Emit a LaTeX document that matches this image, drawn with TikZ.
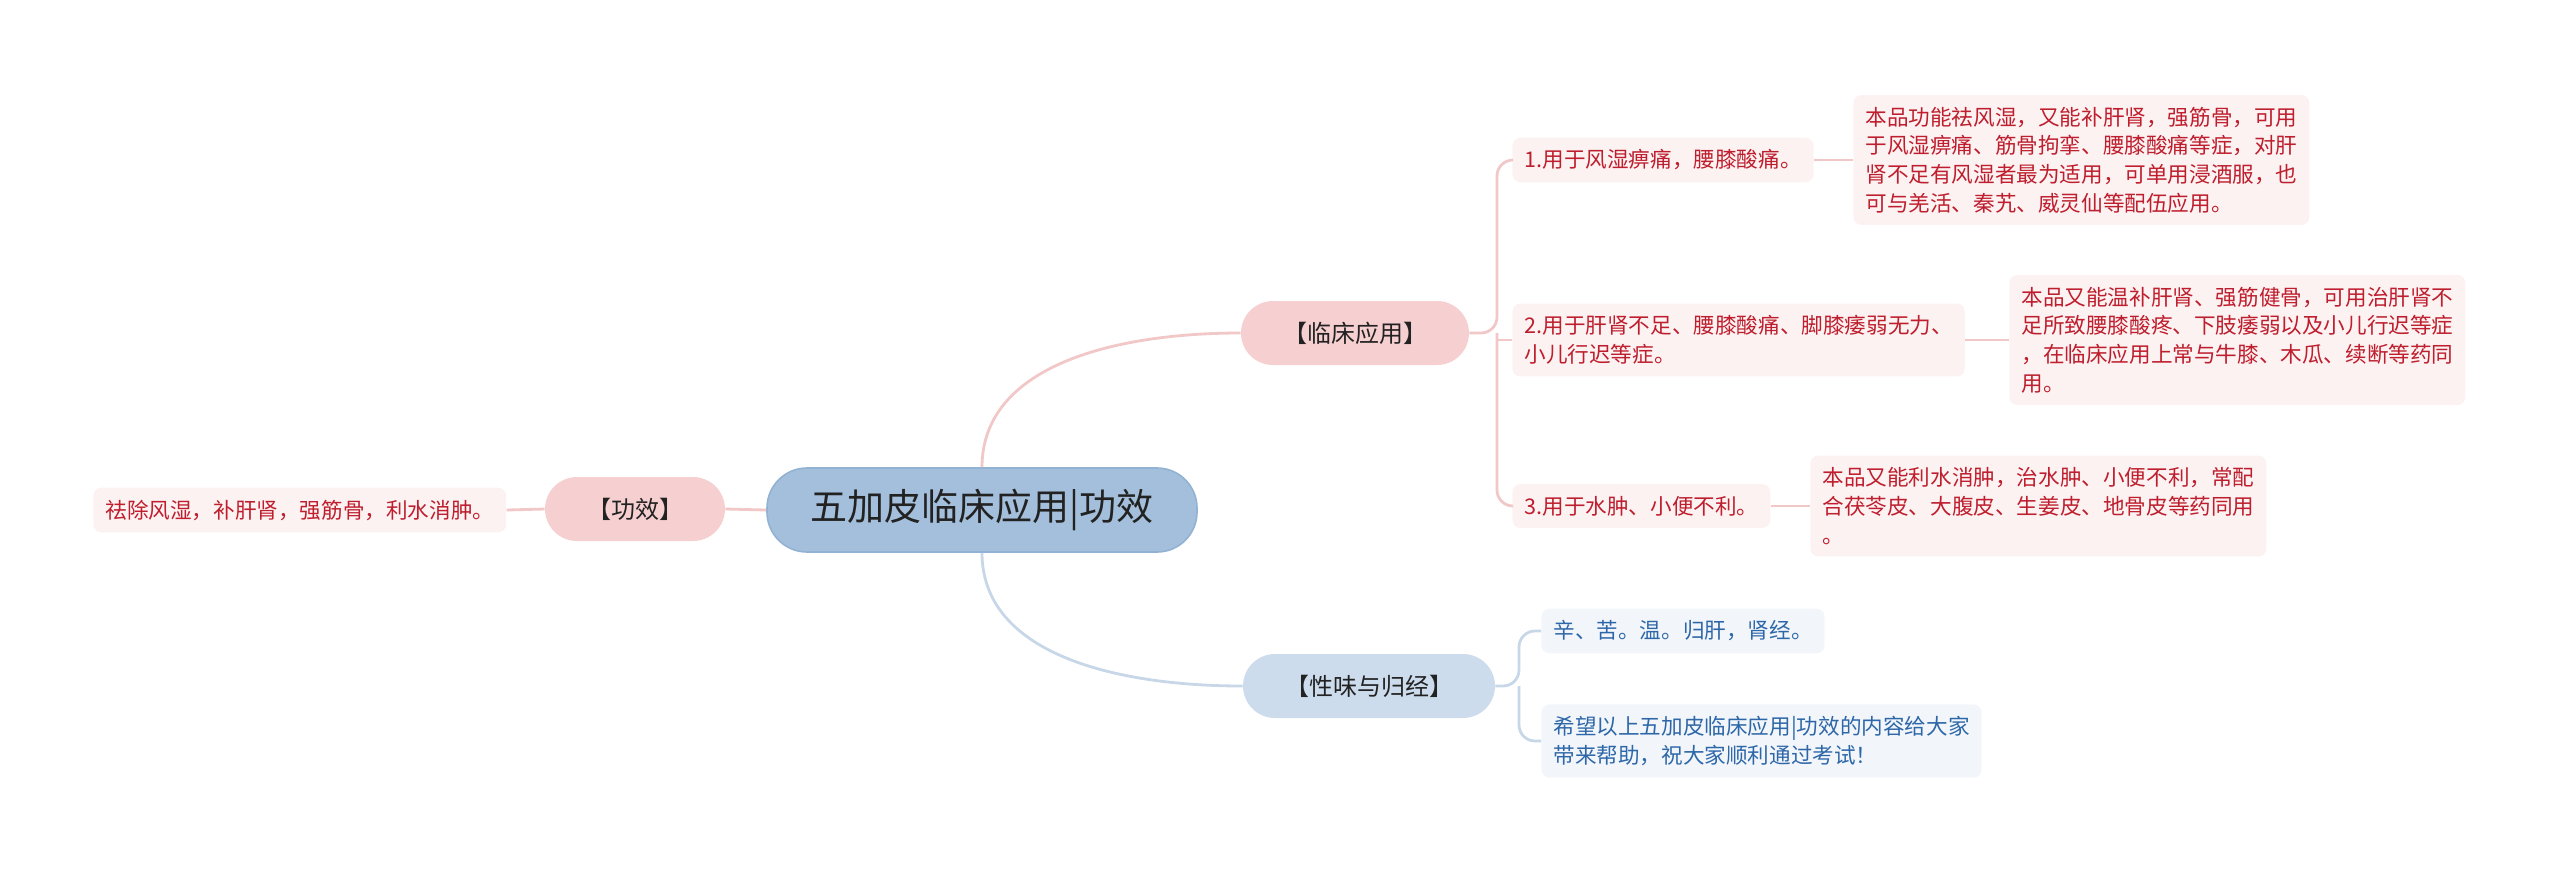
\documentclass[tikz,border=0pt]{standalone}
\usepackage{fontspec}
\newfontfamily\cjk{Noto Sans CJK SC}
\definecolor{rootfill}{HTML}{A3BFDB}
\definecolor{rootdraw}{HTML}{92B2D3}
\definecolor{pinkfill}{HTML}{F6CFD0}
\definecolor{bluefill}{HTML}{CCDCEC}
\definecolor{lfpink}{HTML}{FCF2F2}
\definecolor{lfblue}{HTML}{F2F6FB}
\definecolor{redtext}{HTML}{BE1E2D}
\definecolor{bluetext}{HTML}{2E67A8}
\definecolor{pinkline}{HTML}{F1C7C7}
\definecolor{blueline}{HTML}{C7D7E8}
\definecolor{darktext}{HTML}{222222}

\begin{document}
\begin{tikzpicture}[x=0.5pt, y=-0.5pt,
    root/.style={rectangle, rounded corners=20pt, fill=rootfill, draw=rootdraw, line width=0.8pt, minimum width=215pt, minimum height=42pt, font=\cjk\fontsize{18.5}{22}\selectfont, text=darktext},
    topic/.style={rectangle, rounded corners=16pt, minimum height=32pt, inner xsep=21pt, font=\cjk\fontsize{12}{14}\selectfont, text=darktext},
    leaf/.style={rectangle, rounded corners=4pt, anchor=west, align=left, inner xsep=6pt, inner ysep=6pt, font=\cjk\fontsize{10.8}{14.3}\selectfont},
    redleaf/.style={leaf, fill=lfpink, text=redtext},
    blueleaf/.style={leaf, fill=lfblue, text=bluetext},
    pinkconn/.style={draw=pinkline, line width=1.4pt},
    blueconn/.style={draw=blueline, line width=1.4pt}
]
    \useasboundingbox (0,0) rectangle (2560,874);

    % Zentrum
    \node[root] (root) at (982,510) {五加皮临床应用|功效};

    % Hauptzweige
    \node[topic, fill=pinkfill] (gx) at (635,509) {【功效】};
    \node[topic, fill=pinkfill] (lc) at (1355,333) {【临床应用】};
    \node[topic, fill=bluefill] (xw) at (1369,686) {【性味与归经】};

    % Blaetter
    \node[redleaf] (gxleaf) at (93,510) {祛除风湿，补肝肾，强筋骨，利水消肿。};
    \node[redleaf] (i1) at (1512,160) {1.用于风湿痹痛，腰膝酸痛。};
    \node[redleaf] (d1) at (1853,160) {
        本品功能祛风湿，又能补肝肾，强筋骨，可用\\
        于风湿痹痛、筋骨拘挛、腰膝酸痛等症，对肝\\
        肾不足有风湿者最为适用，可单用浸酒服，也\\
        可与羌活、秦艽、威灵仙等配伍应用。
    };
    \node[redleaf] (i2) at (1512,340) {
        2.用于肝肾不足、腰膝酸痛、脚膝痿弱无力、\\
        小儿行迟等症。
    };
    \node[redleaf] (d2) at (2009,340) {
        本品又能温补肝肾、强筋健骨，可用治肝肾不\\
        足所致腰膝酸疼、下肢痿弱以及小儿行迟等症\\
        ，在临床应用上常与牛膝、木瓜、续断等药同\\
        用。
    };
    \node[redleaf] (i3) at (1512,506) {3.用于水肿、小便不利。};
    \node[redleaf] (d3) at (1810,506) {
        本品又能利水消肿，治水肿、小便不利，常配\\
        合茯苓皮、大腹皮、生姜皮、地骨皮等药同用\\
        。
    };
    \node[blueleaf] (t1) at (1541,631) {辛、苦。温。归肝，肾经。};
    \node[blueleaf] (t2) at (1541,741) {
        希望以上五加皮临床应用|功效的内容给大家\\
        带来帮助，祝大家顺利通过考试！
    };

    % Verbindungen
    \coordinate (lcfork) at (1497,333);
    \coordinate (xwfork) at (1519,686);
    \draw[pinkconn] (root.west) -- (gx.east);
    \draw[pinkconn] (gx.west) -- (gxleaf.east);
    \draw[pinkconn] (root.north) .. controls +(0,-100) and +(-130,0) .. (lc.west);
    \draw[blueconn] (root.south) .. controls +(0,100) and +(-130,0) .. (xw.west);
    \draw[pinkconn, rounded corners=8pt] (lc.east) -- (lcfork) |- (i1.west);
    \draw[pinkconn, rounded corners=8pt] (lcfork) |- (i3.west);
    \draw[pinkconn] (i2.west -| lcfork) -- (i2.west);
    \draw[pinkconn] (i1.east) -- (d1.west);
    \draw[pinkconn] (i2.east) -- (d2.west);
    \draw[pinkconn] (i3.east) -- (d3.west);
    \draw[blueconn, rounded corners=8pt] (xw.east) -- (xwfork) |- (t1.west);
    \draw[blueconn, rounded corners=8pt] (xwfork) |- (t2.west);
\end{tikzpicture}
\end{document}
